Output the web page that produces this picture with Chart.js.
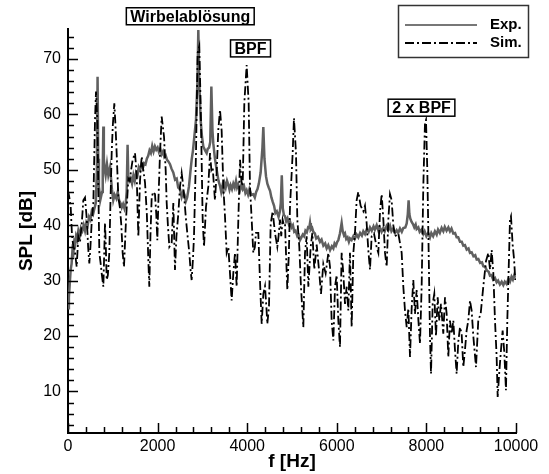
<!DOCTYPE html>
<html>
<head>
<meta charset="utf-8">
<script src="https://cdn.jsdelivr.net/npm/chart.js@4.4.1/dist/chart.umd.min.js"></script>
<style>
html,body{margin:0;padding:0;background:#fff;}
canvas{display:block;}
</style>
</head>
<body>
<canvas id="c" width="549" height="474"></canvas>
<script>
// ---- data ----
const xTickLabels = [0, 2000, 4000, 6000, 8000, 10000];
const yTickLabels = [10, 20, 30, 40, 50, 60, 70];

const expF = [0,20,40,60,80,100,120,140,160,180,200,230,260,290,320,350,380,410,440,470,500,530,560,590,620,645,660,675,690,720,760,775,789,800,820,840,870,900,940,980,1010,1040,1080,1110,1140,1170,1200,1230,1260,1290,1310,1330,1345,1370,1400,1430,1460,1490,1520,1550,1580,1610,1640,1670,1700,1730,1760,1790,1820,1850,1880,1910,1940,1970,2000,2030,2060,2090,2120,2150,2180,2210,2240,2277,2310,2350,2390,2426,2460,2500,2537,2570,2600,2630,2660,2700,2730,2760,2790,2820,2857,2890,2909,2930,2961,2990,3020,3060,3095,3120,3150,3175,3200,3225,3243,3280,3318,3360,3393,3420,3445,3467,3495,3520,3550,3579,3605,3630,3660,3690,3720,3750,3775,3800,3840,3870,3900,3930,3960,3988,4020,4050,4090,4136,4170,4200,4230,4260,4300,4340,4360,4385,4420,4450,4480,4510,4540,4570,4600,4630,4660,4700,4730,4750,4772,4795,4820,4845,4870,4900,4930,4957,4990,5020,5050,5080,5120,5150,5178,5210,5240,5270,5300,5330,5360,5385,5402,5420,5450,5476,5510,5540,5580,5625,5660,5700,5740,5774,5810,5850,5890,5923,5950,5980,6010,6034,6070,6090,6108,6130,6160,6183,6210,6240,6270,6294,6330,6370,6400,6443,6480,6520,6560,6592,6630,6670,6710,6741,6780,6820,6850,6890,6930,6960,7000,7039,7070,7110,7150,7188,7220,7260,7300,7336,7370,7410,7450,7485,7530,7560,7585,7603,7620,7640,7670,7700,7730,7760,7782,7820,7850,7890,7930,7960,8000,8040,8080,8110,8150,8190,8229,8260,8300,8340,8378,8410,8450,8490,8526,8560,8600,8640,8675,8710,8750,8790,8824,8860,8900,8940,8973,9010,9050,9090,9122,9160,9200,9240,9270,9310,9350,9390,9419,9450,9490,9530,9568,9600,9640,9680,9717,9750,9790,9830,9866,9900,9930,9960,9978];
const expSPL = [25,27,29.5,32,33,35.5,35,37,36.5,38,37.5,39,38,39.5,39,40,39,40.5,40,41.5,41,42.5,42,43,44,50,66.8,52,47,44.5,46,50,57.8,52,50,49,51,49,50.5,46.5,44.5,45.5,44.8,46,44.5,44,43.2,43.8,43,44,46,54.5,49,48,48.5,47.5,49,48,49.5,49,50.5,50,51,50.3,51.2,51,52,52.5,53.5,53,54.3,53.3,54.2,53.6,54,53.2,53.8,52.8,53.3,52.3,52.6,51.8,51.5,51,50.2,49.5,48.2,48.4,46.8,46.5,45.1,46,45.5,44.3,45,47,49.5,51.8,53.5,56,59,66,75.2,66,59,56,54.2,53.5,53,53.8,54,55,65,57,54.8,52,50,48,47.1,46,47,46.2,47.5,46.8,48,47.3,46.4,47.2,46.5,47.5,46.8,48,46.8,47.3,46.3,47.3,46.5,47,45.8,46.3,45.5,46.5,45.5,45.6,45,46,46.5,47.5,49.5,54,57.7,52,48.8,47.5,46.8,46.2,45,44.2,43.5,42.2,42.5,41.5,42.5,44,49,43,41.8,41.6,40.7,41.2,40.2,40.6,39.6,40,38.8,39,38,38.2,37.3,37.8,38.3,38,39,38.7,39.6,39.5,40.4,39.2,39.5,38.8,38.5,37.6,37.9,37,37.4,36.3,36.7,35.8,36.4,35.5,36.2,35.8,36.7,36.3,37,37.3,38.5,39.5,40.4,39,38.2,38.5,37.5,37.8,37,37.6,37.3,38,37.5,38.3,37.8,38.6,38.1,38.9,38.4,39.3,38.8,39.6,39,39.8,39.2,40,39,39.6,38.8,39.5,38.9,39.8,39.1,39.9,38.9,39.4,38.6,39.1,38.6,39.4,38.8,39.5,39.6,40.3,42,44.5,42,41.2,40.6,40.2,39.6,40.1,39.3,39.6,38.8,39.2,38.4,38.9,38,38.6,37.8,38.6,38,38.9,38.3,39.2,38.6,39.5,38.9,39.7,39,39.6,38.9,39.4,38.5,38.6,37.8,37.8,37,37,36.3,36.4,35.6,35.8,35,35.1,34.4,34.6,33.8,33.9,33.2,33.3,32.6,32.5,31.8,31.6,30.9,31,30.2,30.5,29.7,30,29.3,29.8,29.2,29.8,29.4,30.3,29.8,30.7,30.2,31,30.5];

const simF = [0,30,60,90,120,150,194,230,268,305,342,380,420,450,476,500,528,566,603,625,655,680,700,730,752,789,826,845,864,890,922,950,975,1000,1034,1060,1086,1124,1161,1190,1220,1250,1295,1347,1380,1410,1443,1496,1533,1570,1607,1645,1680,1719,1760,1793,1815,1840,1868,1900,1942,1970,1994,2020,2054,2091,2143,2180,2203,2230,2262,2314,2351,2388,2420,2462,2500,2537,2574,2634,2670,2708,2735,2760,2790,2812,2857,2894,2931,2968,3006,3036,3080,3132,3170,3200,3229,3280,3318,3355,3393,3430,3467,3504,3542,3579,3616,3653,3690,3728,3765,3802,3840,3870,3899,3936,3988,4033,4062,4100,4136,4170,4196,4248,4285,4323,4360,4397,4430,4449,4486,4524,4568,4620,4672,4700,4732,4760,4791,4820,4844,4866,4896,4930,4955,5015,5044,5089,5119,5163,5200,5253,5290,5327,5365,5417,5454,5498,5551,5610,5647,5699,5751,5811,5848,5885,5923,5960,5997,6034,6071,6108,6146,6183,6220,6257,6294,6332,6369,6406,6443,6480,6532,6592,6629,6666,6703,6741,6778,6830,6890,6927,6964,7002,7039,7076,7113,7150,7187,7224,7262,7299,7373,7448,7485,7522,7560,7597,7634,7671,7708,7745,7782,7820,7857,7894,7931,7968,7991,8020,8051,8080,8103,8140,8176,8214,8252,8288,8326,8377,8415,8452,8489,8526,8563,8601,8638,8675,8712,8750,8787,8824,8861,8898,8935,8973,9010,9047,9107,9158,9211,9270,9330,9382,9420,9457,9494,9531,9568,9591,9627,9665,9702,9739,9776,9806,9836,9866,9888,9925,9955,9985];
const simSPL = [46.3,45,43.3,38,36.1,35.5,32.5,38,37,40,44.5,45,41,36,33.1,36,40.4,44,59,64.1,59,45,35,33,31.3,28.9,40.4,36,30.1,31,35,45,53,58,62,58,53,45,43,40,35,32.5,41,48.4,48,50,51.8,53,49,37.9,48,52.4,50,47.7,42,33.7,28.9,38,45,46,45.6,42,37.3,45,53,59.6,56,50,44,40,36.1,36.8,44,31.9,38,42,47,49.4,47,41,38,35,32,30.1,34,37.9,53,71.1,72.3,59,41,36.1,43.3,47,53,50,50.5,44.5,49.4,57.2,60.8,57,47,41.6,35,36,31.3,26.4,31.3,35,28.9,41,51.8,48,47,62.1,68.9,62,47,41,35,36,38.6,38.6,30.1,22.2,27.6,29,25,22.2,25.2,40.2,42.5,38.6,36.1,38,41,38,41,40,40.2,35,28.3,35,43.3,53,59.3,53,41,36.1,28.9,21.6,35,38,28.9,36.1,38.6,32,36.5,31.3,27.6,33,31.3,35,32.5,22.8,19.2,28.9,31,22.8,18,35,31.3,25.8,28.9,24.6,35,21.6,35,38.6,44.5,46,43.5,42.5,43.5,40.4,35.5,32,38,38.5,36,35,42.5,45.6,41,35,32.5,41,45.6,44.5,40,38,38.5,35,28.9,24.6,21.6,25,16.2,25,30.1,24,28.3,23,18.6,28.9,47,58.4,59,50,35,20,13.2,25.8,27.6,20,27,22.8,25.8,20.4,27,24,16.2,22.8,20.4,22.8,17.5,13.2,19,21.6,20.4,14.4,17.5,21,22.8,26.4,24.6,20,14.4,22.8,24,28.9,33.5,35,32,35.5,31.3,22.8,16.2,9,13.5,17.5,21,17,10.2,22.8,31.9,41,41.6,36.5,34,30.1];

const seriesNames = ['Exp.', 'Sim.'];
const annotations = [
  {text: 'Wirbelablösung', f: 2729, v: 77.7},
  {text: 'BPF', f: 4074, v: 71.9},
  {text: '2 x BPF', f: 7891, v: 61.2}
];

// ---- styles ----
const FONT = '"Liberation Sans", Arial, Helvetica, sans-serif';
const EXP_COLOR = '#606060';
const SIM_DASH = [9, 3, 2, 3];

const inTicks = {
  id: 'inTicks',
  afterDraw(chart) {
    const {ctx, chartArea: a, scales: {x, y}} = chart;
    ctx.save();
    ctx.strokeStyle = '#000';
    ctx.lineWidth = 1.5;
    ctx.beginPath();
    for (let v = 0; v <= 10000; v += 400) {
      const px = Math.round(x.getPixelForValue(v)) + 0.5;
      const len = (v % 2000 === 0) ? 10 : 6;
      ctx.moveTo(px, a.bottom); ctx.lineTo(px, a.bottom - len);
    }
    for (let v = 4; v <= 74; v += 2) {
      const py = Math.round(y.getPixelForValue(v)) + 0.5;
      const len = (v % 10 === 0) ? 10 : 6;
      ctx.moveTo(a.left, py); ctx.lineTo(a.left + len, py);
    }
    ctx.stroke();
    ctx.restore();
  }
};

const overlay = {
  id: 'overlay',
  afterDraw(chart) {
    const {ctx, scales: {x, y}} = chart;
    ctx.save();
    // annotation boxes
    ctx.font = 'bold 16px ' + FONT;
    ctx.textAlign = 'center';
    ctx.textBaseline = 'middle';
    annotations.forEach(an => {
      const cx = x.getPixelForValue(an.f);
      const cy = y.getPixelForValue(an.v);
      const w = ctx.measureText(an.text).width + 8;
      const h = 17;
      ctx.fillStyle = '#fff';
      ctx.fillRect(cx - w / 2, cy - h / 2, w, h);
      ctx.strokeStyle = '#000';
      ctx.lineWidth = 1.5;
      ctx.strokeRect(cx - w / 2, cy - h / 2, w, h);
      ctx.fillStyle = '#000';
      ctx.fillText(an.text, cx, cy + 1);
    });
    // legend
    const lx = 398.5, ly = 5.5, lw = 130, lh = 52;
    ctx.fillStyle = '#fff';
    ctx.fillRect(lx, ly, lw, lh);
    ctx.strokeStyle = '#333';
    ctx.lineWidth = 1.5;
    ctx.strokeRect(lx, ly, lw, lh);
    const ds = chart.data.datasets;
    const rows = [25, 43];
    ds.forEach((d, i) => {
      ctx.beginPath();
      ctx.strokeStyle = i === 0 ? '#777' : '#000';
      ctx.lineWidth = i === 0 ? 2 : 1.8;
      ctx.setLineDash(d.borderDash || []);
      ctx.moveTo(405, rows[i]); ctx.lineTo(477, rows[i]);
      ctx.stroke();
      ctx.setLineDash([]);
      ctx.fillStyle = '#000';
      ctx.font = 'bold 15px ' + FONT;
      ctx.textAlign = 'left';
      ctx.textBaseline = 'alphabetic';
      ctx.fillText(d.label, 490, rows[i] + 4);
    });
    ctx.restore();
  }
};

new Chart(document.getElementById('c'), {
  type: 'line',
  data: {
    datasets: [
      {
        label: seriesNames[0],
        data: expF.map((f, i) => ({x: f, y: expSPL[i]})),
        borderColor: EXP_COLOR,
        borderWidth: 2.5,
        pointRadius: 0,
        tension: 0,
        order: 2
      },
      {
        label: seriesNames[1],
        data: simF.map((f, i) => ({x: f, y: simSPL[i]})),
        borderColor: '#000',
        borderWidth: 1.8,
        borderDash: SIM_DASH,
        pointRadius: 0,
        tension: 0,
        order: 1
      }
    ]
  },
  options: {
    responsive: false,
    animation: false,
    devicePixelRatio: 1,
    layout: {padding: {top: 29, right: 33, left: 0, bottom: 0}},
    plugins: {legend: {display: false}, tooltip: {enabled: false}},
    scales: {
      x: {
        type: 'linear',
        min: 0, max: 10000,
        afterBuildTicks: s => { s.ticks = xTickLabels.map(v => ({value: v})); },
        afterFit: s => { s.height = 41; },
        grid: {display: false, drawTicks: false},
        border: {display: true, color: '#000', width: 2},
        ticks: {
          color: '#000', font: {family: FONT, size: 16}, padding: 4,
          autoSkip: false, maxRotation: 0, callback: v => String(v)
        },
        title: {
          display: true, text: 'f [Hz]', color: '#000',
          font: {family: FONT, size: 19, weight: 'bold'},
          padding: {top: 0, bottom: 1}
        }
      },
      y: {
        type: 'linear',
        min: 2.5, max: 75.4,
        afterBuildTicks: s => { s.ticks = yTickLabels.map(v => ({value: v})); },
        afterFit: s => { s.width = 68; },
        grid: {display: false, drawTicks: false},
        border: {display: true, color: '#000', width: 2},
        ticks: {
          color: '#000', font: {family: FONT, size: 16}, padding: 7,
          autoSkip: false, callback: v => String(v)
        },
        title: {
          display: true, text: 'SPL [dB]', color: '#000',
          font: {family: FONT, size: 19, weight: 'bold'},
          padding: {top: 15, bottom: 0}
        }
      }
    }
  },
  plugins: [inTicks, overlay]
});
</script>
</body>
</html>
